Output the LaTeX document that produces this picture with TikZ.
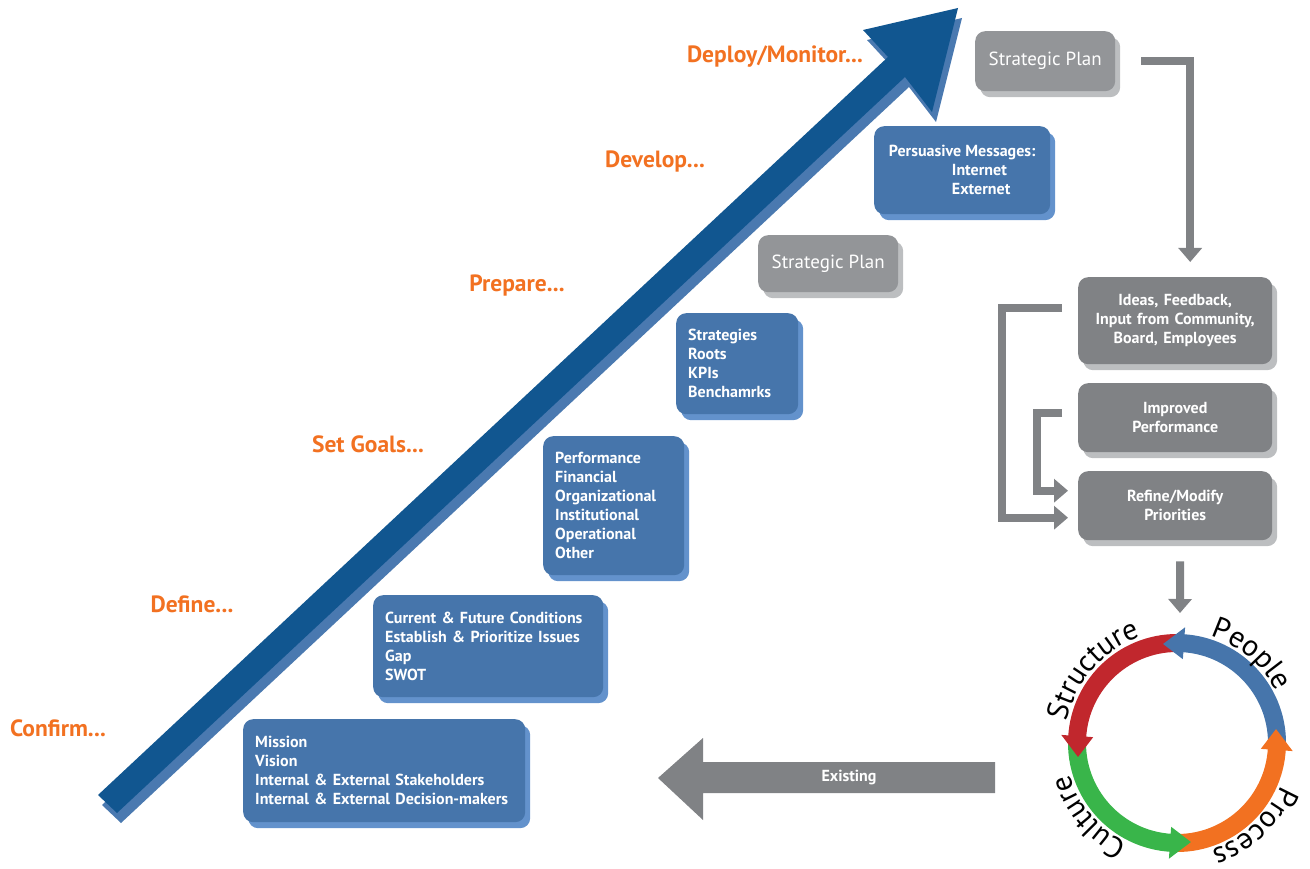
\documentclass[tikz,border=0pt]{standalone}
\usepackage{fontspec}
\setmainfont{PT Sans}
\usetikzlibrary{arrows.meta,shadows,decorations.text}

\definecolor{deepblue}{RGB}{17,86,144}
\definecolor{midblue}{RGB}{74,121,176}
\definecolor{boxblue}{RGB}{70,117,171}
\definecolor{boxshade}{RGB}{99,146,204}
\definecolor{stepgray}{RGB}{128,130,133}
\definecolor{plangray}{RGB}{147,149,152}
\definecolor{grayshade}{RGB}{188,190,192}
\definecolor{phaseorange}{RGB}{242,113,33}
\definecolor{cyclered}{RGB}{193,39,45}
\definecolor{cyclegreen}{RGB}{57,181,74}

\newcommand{\ringfont}{\fontsize{30}{30}\selectfont}

\begin{document}
\begin{tikzpicture}[x=1pt,y=-1pt,
    phase/.style={text=phaseorange,font=\fontsize{23.5}{26}\selectfont\bfseries},
    bluebox/.style={fill=boxblue,rounded corners=10pt,text=white,align=left,anchor=north west,inner xsep=12pt,
        font=\fontsize{16}{19}\selectfont\bfseries,general shadow={fill=boxshade,shadow xshift=5pt,shadow yshift=-6pt}},
    planbox/.style={fill=plangray,rounded corners=10pt,text=white,anchor=north west,
        font=\fontsize{19}{22}\selectfont,general shadow={fill=grayshade,shadow xshift=5pt,shadow yshift=-6pt}},
    graybox/.style={fill=stepgray,rounded corners=10pt,text=white,align=center,anchor=north west,text width=174pt,
        minimum width=194,font=\fontsize{16}{19}\selectfont\bfseries,general shadow={fill=grayshade,shadow xshift=5pt,shadow yshift=-6pt}},
    graybar/.style={draw=stepgray,line width=8pt,-{Triangle[width=23pt,length=14pt]}}]
\useasboundingbox (0,0) rectangle (1310,869);

% rising arrow with its shade
\foreach \dx/\dy/\col in {4/10/midblue,0/0/deepblue}
  \fill[\col,shift={(\dx,\dy)}] (98,795) -- (117,813) -- (905,77) -- (932,112) -- (958,8) -- (863,30) -- (888,57) -- cycle;

\node[phase] (confirm) at (58,728) {Confirm...};
\node[phase] (define) at (192,604) {Define...};
\node[phase] (setgoals) at (368,444) {Set Goals...};
\node[phase] (prepare) at (517,286) {Prepare...};
\node[phase] (develop) at (655,162) {Develop...};
\node[phase] (deploy) at (775,57) {Deploy/Monitor...};

\node[bluebox,text width=258pt,minimum height=103] (mission) at (243,719)
  {Mission\\Vision\\Internal \& External Stakeholders\\Internal \& External Decision-makers};
\node[bluebox,text width=206pt,minimum height=102] (cond) at (373,595)
  {Current \& Future Conditions\\Establish \& Prioritize Issues\\Gap\\SWOT};
\node[bluebox,text width=117pt,minimum height=139] (perf) at (543,436)
  {Performance\\Financial\\Organizational\\Institutional\\Operational\\Other};
\node[bluebox,text width=98pt,minimum height=101] (strat) at (676,313)
  {Strategies\\Roots\\KPIs\\Benchamrks};
\node[planbox,minimum width=140,minimum height=57] (planlow) at (758,235) {Strategic Plan};
\node[bluebox,minimum width=176,minimum height=88] (persuade) at (874,126)
  {Persuasive Messages:\\\hspace*{63pt}Internet\\\hspace*{63pt}Externet};
\node[planbox,minimum width=140,minimum height=60] (plantop) at (975,31) {Strategic Plan};

\node[graybox,minimum height=87] (ideas) at (1078,277) {Ideas, Feedback,\\Input from Community,\\Board, Employees};
\node[graybox,minimum height=69] (improved) at (1078,383) {Improved\\Performance};
\node[graybox,minimum height=69] (refine) at (1078,471) {Refine/Modify\\Priorities};

\coordinate (cyc) at (1177,743);

\draw[graybar] ([xshift=26pt]plantop.east) -| ([xshift=15pt,yshift=15pt]ideas.north);
\draw[graybar] ([shift={(-16,-13)}]ideas.west) -- ++(-60,0) |- ([shift={(-10,12)}]refine.west);
\draw[graybar] ([shift={(-16,-5)}]improved.west) -- ++(-25,0) |- ([shift={(-10,-15)}]refine.west);
\draw[graybar] ([shift={(5,21)}]refine.south) -- ([shift={(3,-130)}]cyc);

% existing
\fill[stepgray] (995,762) -- (703,762) -- (703,738) -- (658,778) -- (703,820) -- (703,793) -- (995,793) -- cycle;
\node[text=white,font=\fontsize{16}{19}\selectfont\bfseries] (existing) at (849,778) {Existing};

% cycle
\begin{scope}[shift={(cyc)},y=1pt]
  \foreach \a/\col in {0/boxblue,90/cyclered,180/cyclegreen,270/phaseorange}
    \draw[\col,line width=18pt] ({\a-3}:100) arc ({\a-3}:{\a+87}:100);
  \foreach \a/\col in {0/boxblue,90/cyclered,180/cyclegreen,270/phaseorange}
    \fill[\col] ({\a+86}:84) -- ({\a+86}:116) -- ({\a+98}:100) -- cycle;
  \path[decorate,decoration={text along path,text align=center,text={|\ringfont|People}}] (94:112) arc (94:6:112);
  \path[decorate,decoration={text along path,text align=center,text={|\ringfont|Structure}}] (188:112) arc (188:90:112);
  \path[decorate,decoration={text along path,text align=center,text={|\ringfont|Culture}}] (264:112) arc (264:176:112);
  \path[decorate,decoration={text along path,text align=center,text={|\ringfont|Process}}] (357:112) arc (357:269:112);
\end{scope}
\end{tikzpicture}
\end{document}
